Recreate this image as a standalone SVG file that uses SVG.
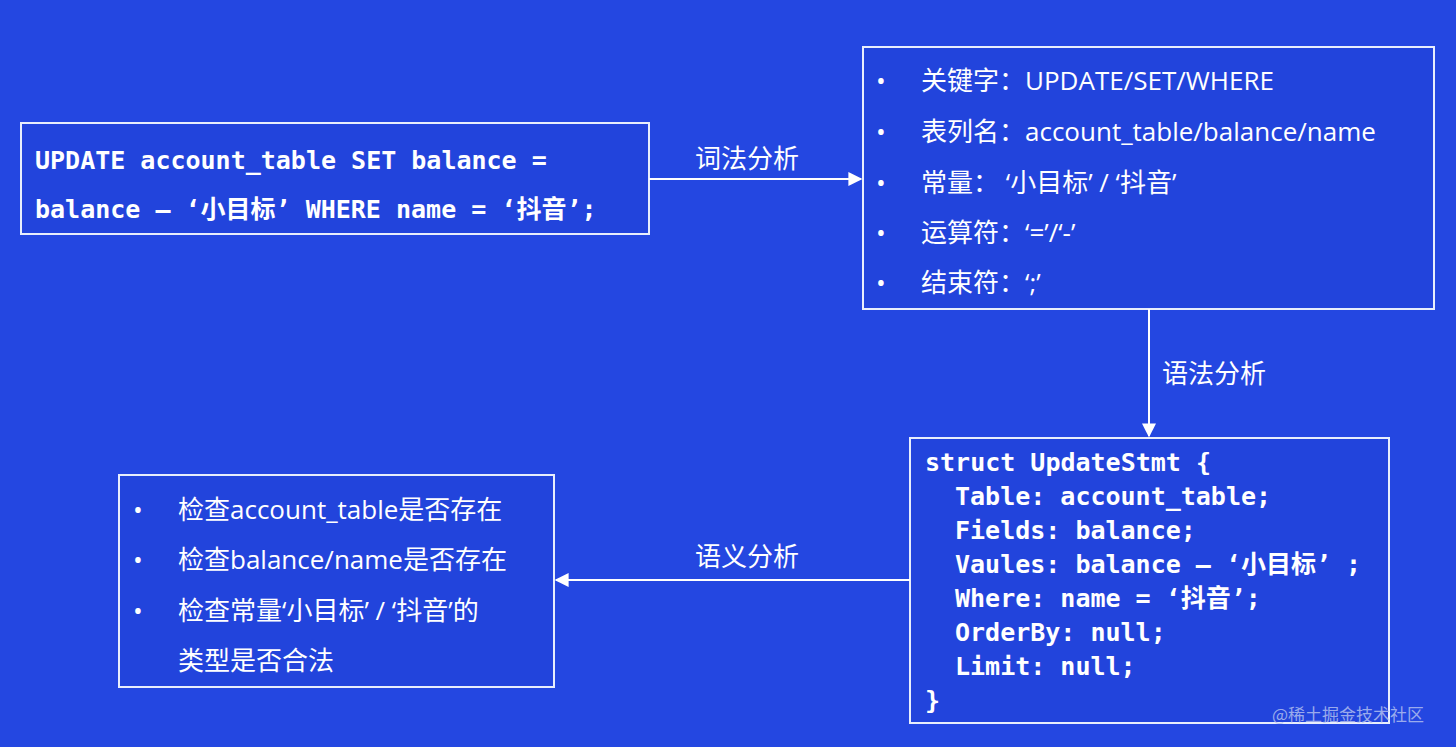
<svg xmlns="http://www.w3.org/2000/svg" width="1456" height="747" viewBox="0 0 1456 747">
<defs>
<style>
.box{fill:#2244dc;stroke:#e8eefc;stroke-width:2}
.mono{font-family:"DejaVu Sans Mono","Noto Sans CJK SC",monospace;font-weight:bold;font-size:25px;fill:#fff}
.sans{font-family:"Open Sans","Noto Sans CJK SC",sans-serif;font-size:26px;fill:#fff}
.lbl{font-family:"Noto Sans CJK SC",sans-serif;font-size:26px;fill:#fff}
.ln{stroke:#fff;stroke-width:2;fill:none}
</style>
<marker id="ah" viewBox="0 0 10 10" refX="9" refY="5" markerWidth="7" markerHeight="7" orient="auto"><path d="M0,0L10,5L0,10z" fill="#fff"/></marker>
</defs>
<rect width="1456" height="747" fill="#2447e1"/>
<g id="sql">
<rect class="box" x="21" y="123" width="628" height="111"/>
<text class="mono" x="35" y="169">UPDATE account_table SET balance =</text>
<text class="mono" x="35" y="218">balance – ‘小目标’ WHERE name = ‘抖音’;</text>
</g>
<g id="tokens">
<rect class="box" x="863" y="47" width="571" height="262"/>
<g class="sans">
<text x="876" y="90">•</text><text x="921" y="90">关键字：UPDATE/SET/WHERE</text>
<text x="876" y="141">•</text><text x="921" y="141">表列名：account_table/balance/name</text>
<text x="876" y="192">•</text><text x="921" y="192">常量： ‘小目标’ / ‘抖音’</text>
<text x="876" y="242">•</text><text x="921" y="242">运算符：‘=’/‘-’</text>
<text x="876" y="292">•</text><text x="921" y="292">结束符：‘;’</text>
</g>
</g>
<g id="ast">
<rect class="box" x="910" y="438" width="479" height="285"/>
<text class="mono" x="925" y="471">struct UpdateStmt {</text>
<text class="mono" x="955" y="505">Table: account_table;</text>
<text class="mono" x="955" y="539">Fields: balance;</text>
<text class="mono" x="955" y="573">Vaules: balance – ‘小目标’ ;</text>
<text class="mono" x="955" y="607">Where: name = ‘抖音’;</text>
<text class="mono" x="955" y="641">OrderBy: null;</text>
<text class="mono" x="955" y="675">Limit: null;</text>
<text class="mono" x="925" y="709">}</text>
</g>
<g id="checks">
<rect class="box" x="119" y="475" width="435" height="212"/>
<g class="sans">
<text x="133" y="519">•</text><text x="178" y="519">检查account_table是否存在</text>
<text x="133" y="569">•</text><text x="178" y="569">检查balance/name是否存在</text>
<text x="133" y="620">•</text><text x="178" y="620">检查常量‘小目标’ / ‘抖音’的</text>
<text x="178" y="670">类型是否合法</text>
</g>
</g>
<g id="connectors">
<line class="ln" x1="649" y1="179" x2="861" y2="179" marker-end="url(#ah)"/>
<text class="lbl" x="695" y="168">词法分析</text>
<line class="ln" x1="1149" y1="309" x2="1149" y2="436" marker-end="url(#ah)"/>
<text class="lbl" x="1162" y="383">语法分析</text>
<line class="ln" x1="910" y1="580" x2="556" y2="580" marker-end="url(#ah)"/>
<text class="lbl" x="695" y="566">语义分析</text>
</g>
<text x="1272" y="721" font-family="Noto Sans CJK SC,sans-serif" font-size="17" fill="#b8c4f0" opacity="0.8">@稀土掘金技术社区</text>
</svg>
